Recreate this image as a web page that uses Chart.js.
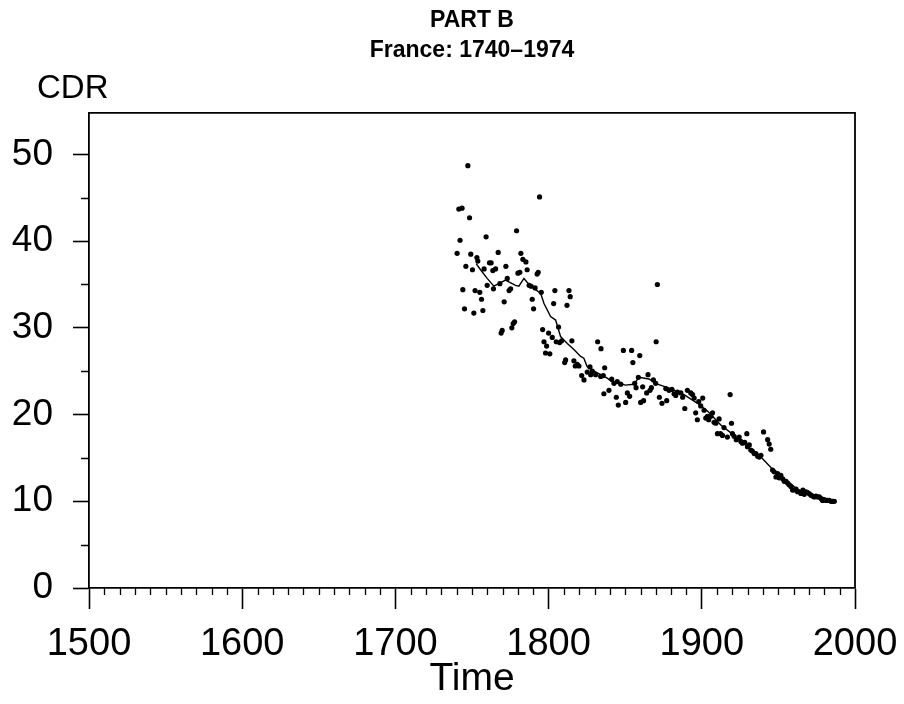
<!DOCTYPE html>
<html>
<head>
<meta charset="utf-8">
<script src="https://cdn.jsdelivr.net/npm/chart.js@4"></script>
<style>
  html, body { margin: 0; padding: 0; background: #fff; }
  canvas { display: block; }
</style>
</head>
<body>
<canvas id="cdrChart" width="904" height="704"></canvas>
<script>
// annual crude death rates
const years = [
  1740.3, 1741.4, 1742.2, 1743.5, 1744.0, 1745.1, 1746.0, 1747.3, 1748.4, 1749.2,
  1750.3, 1751.2, 1752.0, 1753.2, 1753.8, 1755.1, 1756.2, 1757.1, 1757.9, 1759.2,
  1759.9, 1761.4, 1762.5, 1763.6, 1764.0, 1765.4, 1767.1, 1768.2, 1769.0, 1769.7,
  1771.0, 1772.1, 1773.0, 1774.2, 1775.2, 1776.0, 1776.9, 1777.8, 1779.1, 1780.0,
  1781.2, 1781.9, 1783.2, 1785.2, 1786.0, 1787.3, 1788.6, 1789.3, 1790.2, 1791.2,
  1792.5, 1793.2, 1794.1, 1795.2, 1796.1, 1797.0, 1798.0, 1798.7, 1800.0, 1800.8,
  1802.4, 1803.3, 1804.1, 1805.0, 1806.5, 1807.2, 1808.5, 1810.5, 1811.1, 1812.0,
  1813.3, 1814.1, 1815.2, 1816.5, 1817.4, 1818.7, 1819.8, 1821.6, 1823.1, 1825.2,
  1827.0, 1827.5, 1828.5, 1830.7, 1832.0, 1834.0, 1834.2, 1835.7, 1836.1, 1836.6,
  1839.4, 1841.2, 1842.7, 1844.2, 1844.8, 1845.5, 1847.1, 1848.8, 1850.3, 1851.4,
  1852.9, 1854.2, 1855.0, 1856.2, 1857.1, 1858.6, 1859.5, 1860.1, 1861.4, 1862.0,
  1864.0, 1864.9, 1866.2, 1867.1, 1868.4, 1869.9, 1870.2, 1871.0, 1872.3, 1874.0,
  1876.5, 1877.1, 1878.6, 1880.5, 1881.9, 1883.0, 1884.1, 1886.3, 1887.5, 1888.9,
  1890.6, 1892.8, 1894.0, 1895.0, 1896.0, 1897.1, 1898.0, 1899.3, 1900.6, 1901.5,
  1902.6, 1903.7, 1904.5, 1905.9, 1907.0, 1908.0, 1909.2, 1910.2, 1911.3, 1912.2,
  1913.5, 1914.5, 1916.7, 1918.5, 1919.4, 1920.0, 1921.1, 1922.5, 1924.4, 1925.5,
  1926.5, 1928.0, 1929.4, 1929.8, 1931.0, 1932.0, 1933.0, 1934.2, 1935.3, 1936.5,
  1937.5, 1938.6, 1940.3, 1943.0, 1944.0, 1945.0, 1946.2, 1947.2, 1948.4, 1949.5,
  1950.5, 1951.6, 1952.8, 1953.8, 1955.0, 1956.0, 1957.0, 1958.2, 1959.2, 1960.3,
  1961.5, 1962.5, 1963.6, 1964.7, 1966.0, 1966.9, 1968.0, 1969.0, 1970.1, 1971.2,
  1972.3, 1973.4, 1974.5, 1975.6, 1976.7, 1978.0, 1978.8, 1979.9, 1981.0, 1982.1,
  1983.2, 1984.3, 1985.4, 1986.5
];
const cdr = [
  38.6, 43.7, 40.1, 43.8, 34.4, 32.2, 37.1, 48.7, 42.7, 38.5,
  36.7, 31.7, 34.3, 38.1, 37.7, 34.1, 33.3, 32.0, 36.8, 40.5,
  34.9, 37.5, 37.5, 36.6, 34.5, 36.8, 38.7, 35.1, 29.4, 29.7,
  33.0, 37.1, 35.7, 34.3, 34.5, 30.0, 30.5, 30.7, 41.2, 36.3,
  36.4, 38.6, 37.9, 37.6, 36.7, 34.9, 34.8, 33.3, 32.2, 34.6,
  36.2, 36.4, 45.1, 34.1, 29.8, 28.4, 27.1, 27.9, 29.4, 27.0,
  28.9, 32.8, 34.3, 28.4, 30.1, 28.3, 28.5, 26.0, 26.3, 32.6,
  34.3, 33.6, 28.5, 26.2, 25.6, 25.8, 25.6, 24.5, 24.0, 24.9,
  25.5, 24.6, 25.0, 24.6, 28.4, 24.4, 27.6, 24.5, 22.4, 25.4,
  22.8, 24.1, 23.6, 22.0, 23.8, 21.1, 23.5, 27.4, 21.4, 22.5,
  22.1, 27.4, 26.0, 23.6, 23.1, 24.3, 26.8, 21.4, 23.2, 21.6,
  22.5, 24.6, 22.8, 23.1, 24.0, 23.6, 28.4, 35.0, 22.0, 21.3,
  23.0, 21.6, 22.8, 22.9, 22.4, 22.2, 22.6, 22.5, 22.0, 20.7,
  22.8, 22.5, 22.3, 21.9, 20.2, 19.4, 21.5, 21.0, 21.9, 20.5,
  19.6, 19.8, 19.4, 19.8, 20.2, 19.1, 19.0, 17.8, 19.5, 17.8,
  17.6, 18.5, 17.4, 22.3, 19.0, 17.8, 17.5, 17.1, 17.4, 16.9,
  16.7, 16.8, 17.8, 16.3, 16.5, 15.9, 15.8, 15.5, 15.5, 15.2,
  15.1, 15.3, 18.0, 17.1, 16.6, 16.0, 13.6, 13.4, 12.8, 13.2,
  12.7, 13.0, 12.6, 12.3, 12.3, 12.1, 11.9, 11.7, 11.3, 11.3,
  11.4, 11.1, 11.1, 10.9, 11.3, 10.8, 11.1, 11.0, 10.9, 10.7,
  10.6, 10.5, 10.6, 10.5, 10.5, 10.3, 10.1, 10.2, 10.1, 10.1,
  10.1, 10.0, 10.0, 10.0
];

// smoothed trend line
const trendYears = [
  1752.7, 1755.6, 1759.9, 1764.3, 1767.5, 1771.9, 1774.0, 1778.4, 1780.6, 1783.9,
  1788.2, 1794.8, 1797.0, 1801.3, 1804.6, 1807.8, 1812.2, 1816.5, 1820.9, 1823.0,
  1825.2, 1831.8, 1838.3, 1842.7, 1847.0, 1850.0, 1855.7, 1859.0, 1865.5, 1871.0,
  1879.7, 1888.4, 1897.2, 1903.7, 1912.4, 1921.1, 1925.5, 1932.0, 1938.6, 1946.2,
  1956.0, 1963.0, 1971.2, 1980.0, 1986.5
];
const trendCdr = [
  37.4, 36.7, 35.7, 34.8, 35.1, 35.5, 35.3, 34.9, 34.8, 35.7,
  34.8, 34.0, 32.8, 31.3, 30.9, 29.0, 28.2, 27.5, 26.7, 26.5,
  25.5, 24.8, 24.2, 23.6, 23.6, 23.4, 23.5, 24.3, 24.1, 23.5,
  23.0, 22.3, 21.3, 20.4, 18.8, 17.6, 16.9, 16.0, 15.1, 13.7,
  12.3, 11.3, 10.7, 10.3, 10.0
];

const xTicks = [1500, 1600, 1700, 1800, 1900, 2000];
const yTicks = [0, 10, 20, 30, 40, 50];

const FONT = "'Liberation Sans', Arial, Helvetica, sans-serif";

// minor ticks, plot frame and the CDR label
const extras = {
  id: 'extras',
  afterDraw(chart) {
    const { ctx, chartArea: a, scales: { x, y } } = chart;
    ctx.save();
    ctx.strokeStyle = '#000';
    ctx.lineWidth = 1.3;
    ctx.beginPath();
    for (let v = xTicks[0] + 10; v < xTicks[xTicks.length - 1]; v += 10) {
      if (xTicks.includes(v)) continue;
      const px = Math.round(x.getPixelForValue(v)) + 0.5;
      ctx.moveTo(px, a.bottom);
      ctx.lineTo(px, a.bottom + 7);
    }
    for (let v = 5; v < 55; v += 10) {
      const py = Math.round(y.getPixelForValue(v)) + 0.5;
      ctx.moveTo(a.left, py);
      ctx.lineTo(a.left - 8, py);
    }
    ctx.stroke();

    ctx.lineWidth = 1.8;
    ctx.beginPath();
    ctx.moveTo(a.left, a.top);
    ctx.lineTo(a.right, a.top);
    ctx.lineTo(a.right, a.bottom);
    ctx.stroke();

    ctx.fillStyle = '#000';
    ctx.font = '33px ' + FONT;
    ctx.textAlign = 'left';
    ctx.textBaseline = 'alphabetic';
    ctx.fillText('CDR', 37, 98);
    ctx.restore();
  }
};

new Chart(document.getElementById('cdrChart').getContext('2d'), {
  type: 'scatter',
  data: {
    datasets: [{
      label: 'CDR',
      data: years.map((yr, i) => ({ x: yr, y: cdr[i] })),
      pointRadius: 2.6,
      pointBackgroundColor: '#000',
      pointBorderWidth: 0,
      showLine: false
    }, {
      label: 'Trend',
      data: trendYears.map((yr, i) => ({ x: yr, y: trendCdr[i] })),
      showLine: true,
      pointRadius: 0,
      borderColor: '#000',
      borderWidth: 1.4,
      tension: 0
    }]
  },
  options: {
    responsive: false,
    devicePixelRatio: 1,
    animation: false,
    layout: { padding: { left: 0, right: 49, top: 0, bottom: 0 } },
    plugins: {
      legend: { display: false },
      tooltip: { enabled: false },
      title: {
        display: true,
        fullSize: false,
        text: ['PART B', 'France: 1740\u20131974'],
        color: '#000',
        font: { family: FONT, size: 23, weight: 'bold', lineHeight: 1.3 },
        padding: { top: 6, bottom: 47 }
      }
    },
    scales: {
      x: {
        type: 'linear',
        min: 1500,
        max: 2000,
        afterBuildTicks: s => { s.ticks = xTicks.map(v => ({ value: v })); },
        afterFit: s => { s.height = 116; s.paddingLeft = 0; s.paddingRight = 0; },
        border: { display: true, color: '#000', width: 1.8 },
        grid: { display: true, drawOnChartArea: false, drawTicks: true, tickLength: 21, tickWidth: 1.6, tickColor: '#000' },
        ticks: { color: '#000', font: { family: FONT, size: 38 }, padding: 13, maxRotation: 0, callback: v => String(v) },
        title: { display: true, text: 'Time', color: '#000', font: { family: FONT, size: 39 }, padding: { top: 0, bottom: 1 } }
      },
      y: {
        type: 'linear',
        min: 0,
        max: 54.8,
        afterBuildTicks: s => { s.ticks = yTicks.map(v => ({ value: v })); },
        afterFit: s => { s.width = 89; s.paddingTop = 0; s.paddingBottom = 0; },
        border: { display: true, color: '#000', width: 1.8 },
        grid: { display: true, drawOnChartArea: false, drawTicks: true, tickLength: 16, tickWidth: 1.6, tickColor: '#000' },
        ticks: { color: '#000', font: { family: FONT, size: 37 }, padding: 20, callback: v => String(v) }
      }
    }
  },
  plugins: [extras]
});
</script>
</body>
</html>
